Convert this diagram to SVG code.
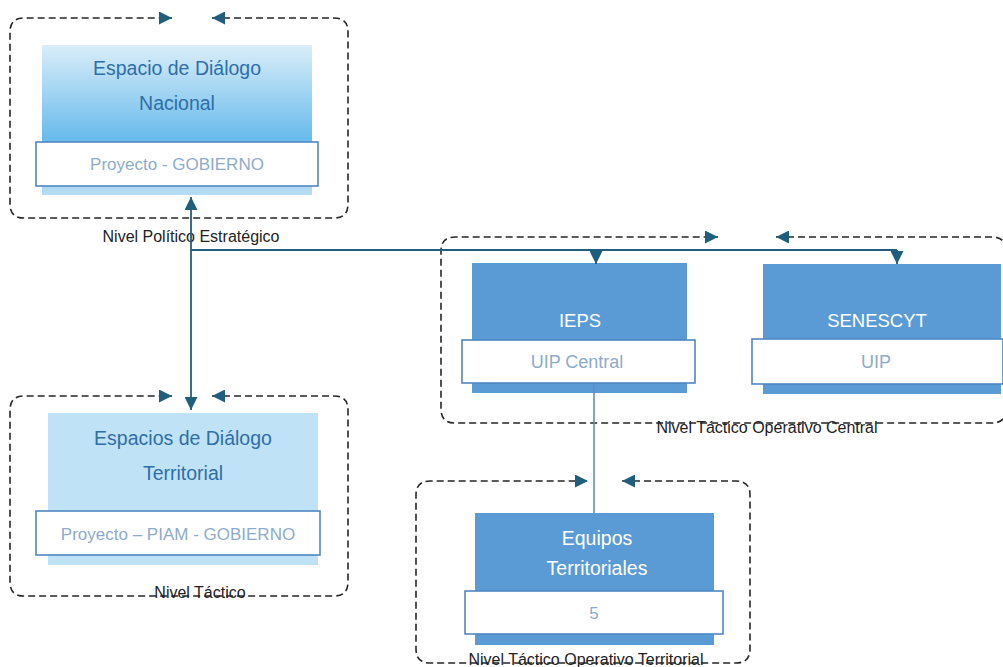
<svg xmlns="http://www.w3.org/2000/svg" width="1003" height="667" viewBox="0 0 1003 667">
<style>
.frame{fill:none;stroke:#262626;stroke-width:1.6;stroke-dasharray:7 4}
.lbl{font-family:"Liberation Sans",Arial,sans-serif;font-size:16px;fill:#222;text-anchor:middle}
.ttl{font-family:"Liberation Sans",Arial,sans-serif;font-size:19.5px;fill:#2f6ea6;text-anchor:middle}
.ttlw{font-family:"Liberation Sans",Arial,sans-serif;font-size:19.5px;fill:#fff;text-anchor:middle}
.sub{font-family:"Liberation Sans",Arial,sans-serif;font-size:17px;fill:#8eabcc;text-anchor:middle}
.wbox{fill:#fff;stroke:#4f87c2;stroke-width:1.6}
.blue{fill:#5b9bd5}
.conn{fill:none;stroke:#1f5f7d;stroke-width:1.8}
</style>
<defs>
<linearGradient id="g1" x1="0" y1="0" x2="0" y2="1">
<stop offset="0" stop-color="#daeef9"/>
<stop offset="0.62" stop-color="#6abbec"/>
<stop offset="1" stop-color="#b8ddf4"/>
</linearGradient>
<marker id="ah" viewBox="0 0 12 12" refX="12" refY="6" markerWidth="13" markerHeight="13" markerUnits="userSpaceOnUse" orient="auto-start-reverse">
<path d="M0,0 L12,6 L0,12 z" fill="#1f5f7d"/>
</marker>
</defs>

<g id="frames">
<path class="frame" d="M212,18 H334 Q348,18 348,32 V204 Q348,218 334,218 H24 Q10,218 10,204 V32 Q10,18 24,18 H172" marker-start="url(#ah)" marker-end="url(#ah)"/>
<path class="frame" d="M212,396 H334 Q348,396 348,410 V582 Q348,596 334,596 H24 Q10,596 10,582 V410 Q10,396 24,396 H172" marker-start="url(#ah)" marker-end="url(#ah)"/>
<path class="frame" d="M776,237 H992 Q1006,237 1006,251 V409 Q1006,423 992,423 H455 Q441,423 441,409 V251 Q441,237 455,237 H718" marker-start="url(#ah)" marker-end="url(#ah)"/>
<path class="frame" d="M622,481 H736 Q750,481 750,495 V649 Q750,663 736,663 H430 Q416,663 416,649 V495 Q416,481 430,481 H588" marker-start="url(#ah)" marker-end="url(#ah)"/>
<text class="lbl" x="191" y="242">Nivel Político  Estratégico</text>
<text class="lbl" x="767" y="433">Nivel Táctico Operativo Central</text>
<text class="lbl" x="200" y="598">Nivel Táctico</text>
<text class="lbl" x="586" y="665">Nivel Táctico Operativo Territorial</text>
</g>

<g id="node-nacional">
<rect x="42" y="45" width="270" height="150" fill="url(#g1)"/>
<text class="ttl" x="177" y="75">Espacio de Diálogo</text>
<text class="ttl" x="177" y="110">Nacional</text>
<rect class="wbox" x="36" y="142" width="282" height="44"/>
<text class="sub" x="177" y="170">Proyecto - GOBIERNO</text>
</g>

<g id="node-territorial">
<rect x="48" y="413" width="270" height="152" fill="#bfe2f6"/>
<text class="ttl" x="183" y="445">Espacios de Diálogo</text>
<text class="ttl" x="183" y="480">Territorial</text>
<rect class="wbox" x="36" y="511" width="284" height="44"/>
<text class="sub" x="178" y="540">Proyecto – PIAM - GOBIERNO</text>
</g>

<g id="node-ieps">
<rect class="blue" x="472" y="263" width="215" height="130"/>
<text class="ttlw" x="580" y="327" style="font-size:18.5px">IEPS</text>
<rect class="wbox" x="462" y="340" width="233" height="43"/>
<text class="sub" x="577" y="368" style="font-size:18px">UIP Central</text>
</g>

<g id="node-senescyt">
<rect class="blue" x="763" y="264" width="238" height="130"/>
<text class="ttlw" x="877" y="327" style="font-size:18.5px">SENESCYT</text>
<rect class="wbox" x="752" y="339" width="251" height="45"/>
<text class="sub" x="876" y="368" style="font-size:18px">UIP</text>
</g>

<g id="node-equipos">
<rect class="blue" x="475" y="513" width="239" height="132"/>
<text class="ttlw" x="597" y="545">Equipos</text>
<text class="ttlw" x="597" y="575">Territoriales</text>
<rect class="wbox" x="465" y="591" width="258" height="43"/>
<text class="sub" x="594" y="619">5</text>
</g>

<g id="connectors">
<path class="conn" d="M191,197 V410" marker-start="url(#ah)" marker-end="url(#ah)"/>
<path class="conn" d="M191,250 H897"/>
<path class="conn" d="M596,250 V264" marker-end="url(#ah)"/>
<path class="conn" d="M897,250 V264" marker-end="url(#ah)"/>
<path fill="none" stroke="#5b8fc8" stroke-width="1.6" d="M594,384 V513"/>
</g>
</svg>
